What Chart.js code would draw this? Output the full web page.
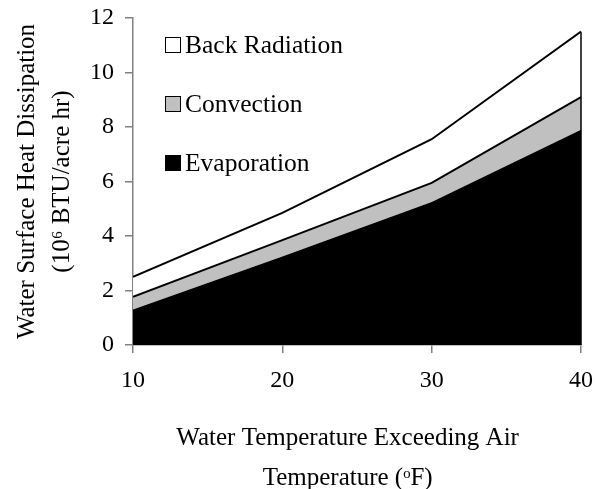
<!DOCTYPE html>
<html>
<head>
<meta charset="utf-8">
<script src="https://cdn.jsdelivr.net/npm/chart.js@4"></script>
<style>
  html, body { margin: 0; padding: 0; background: #fff; }
  #wrap { position: relative; width: 595px; height: 489px; }
  #legend { position: absolute; left: 165px; top: 32px; font-family: "Liberation Serif", serif; font-size: 25.5px; color: #000; }
  #legend div { display: flex; align-items: center; height: 26px; margin-bottom: 33px; }
  #legend span.box { display: inline-block; width: 14px; height: 14px; border: 1.5px solid #000; margin-right: 4px; }
</style>
</head>
<body>
<div id="wrap">
  <canvas id="heatChart" width="595" height="489"></canvas>
  <div id="legend"></div>
</div>
<script>
// 데이터
const tempExcess = [10, 20, 30, 40];
const evaporation = [1.3, 3.25, 5.25, 7.9];
const convection = [0.47, 0.6, 0.7, 1.2];     // 증발 위에 쌓이는 값
const backRadiation = [0.73, 1.0, 1.6, 2.4];  // 대류 위에 쌓이는 값
const yTicks = [0, 2, 4, 6, 8, 10, 12];

const serif = '"Liberation Serif", "Times New Roman", serif';
const nbsp3 = '\u00a0\u00a0\u00a0'; // x축 제목을 조금 왼쪽으로

// 범례 (차트 안 왼쪽 위)
const legendItems = [
    { label: 'Back Radiation', color: '#ffffff' },
    { label: 'Convection', color: '#c0c0c0' },
    { label: 'Evaporation', color: '#000000' }
];
document.getElementById('legend').innerHTML = legendItems
    .map(item => `<div><span class="box" style="background:${item.color}"></span>${item.label}</div>`)
    .join('');

// x=40 쪽 오른쪽 세로선 (맨 위 값까지)
const rightEdgePlugin = {
    id: 'rightEdge',
    afterDatasetsDraw(chart) {
        const { ctx, scales } = chart;
        const last = tempExcess.length - 1;
        const top = evaporation[last] + convection[last] + backRadiation[last];
        const x = scales.x.getPixelForValue(tempExcess[last]);
        ctx.save();
        ctx.strokeStyle = '#000';
        ctx.lineWidth = 1.5;
        ctx.beginPath();
        ctx.moveTo(x, scales.y.getPixelForValue(0));
        ctx.lineTo(x, scales.y.getPixelForValue(top));
        ctx.stroke();
        ctx.restore();
    }
};

const ctx = document.getElementById('heatChart').getContext('2d');
new Chart(ctx, {
    type: 'line',
    data: {
        datasets: [
            {
                label: 'Evaporation',
                data: tempExcess.map((t, i) => ({ x: t, y: evaporation[i] })),
                backgroundColor: '#000000',
                borderColor: '#000000',
                borderWidth: 0,
                fill: 'origin',
                pointRadius: 0
            },
            {
                label: 'Convection',
                data: tempExcess.map((t, i) => ({ x: t, y: convection[i] })),
                backgroundColor: '#c0c0c0',
                borderColor: '#000000',
                borderWidth: 2,
                fill: '-1',
                pointRadius: 0
            },
            {
                label: 'Back Radiation',
                data: tempExcess.map((t, i) => ({ x: t, y: backRadiation[i] })),
                backgroundColor: '#ffffff',
                borderColor: '#000000',
                borderWidth: 2,
                fill: '-1',
                pointRadius: 0
            }
        ]
    },
    options: {
        responsive: false,
        animation: false,
        layout: { padding: { top: 18, right: 3, left: 0, bottom: 0 } },
        plugins: {
            legend: { display: false },
            tooltip: { enabled: false }
        },
        scales: {
            x: {
                type: 'linear',
                min: 10,
                max: 40,
                afterBuildTicks: axis => { axis.ticks = tempExcess.map(v => ({ value: v })); },
                afterFit: axis => {
                    axis.height = 144;
                    axis.paddingLeft = 0;
                    axis.paddingRight = 14;
                },
                border: { display: true, color: '#808080', width: 1.5 },
                grid: { display: true, drawOnChartArea: false, drawTicks: true, tickLength: 8, color: '#808080', lineWidth: 1.5 },
                ticks: { color: '#000', font: { family: serif, size: 24 }, padding: 13, maxRotation: 0 },
                title: {
                    display: true,
                    text: ['Water Temperature Exceeding Air' + nbsp3, 'Temperature (\u1d52F)' + nbsp3],
                    color: '#000',
                    font: { family: serif, size: 25, lineHeight: 1.62 },
                    padding: { top: 0, bottom: -10 }
                }
            },
            y: {
                stacked: true,
                min: 0,
                max: 12,
                afterBuildTicks: axis => { axis.ticks = yTicks.map(v => ({ value: v })); },
                afterFit: axis => {
                    axis.width = 133;
                    axis.paddingTop = 0;
                    axis.paddingBottom = 0;
                },
                border: { display: true, color: '#808080', width: 1.5 },
                grid: { display: true, drawOnChartArea: false, drawTicks: true, tickLength: 8, color: '#808080', lineWidth: 1.5 },
                ticks: { color: '#000', font: { family: serif, size: 24 }, padding: 11 },
                title: {
                    display: true,
                    text: ['Water Surface Heat Dissipation', '(10\u2076 BTU/acre hr)'],
                    color: '#000',
                    font: { family: serif, size: 25, lineHeight: 1.4 },
                    padding: { top: 10 }
                }
            }
        }
    },
    plugins: [rightEdgePlugin]
});
</script>
</body>
</html>
